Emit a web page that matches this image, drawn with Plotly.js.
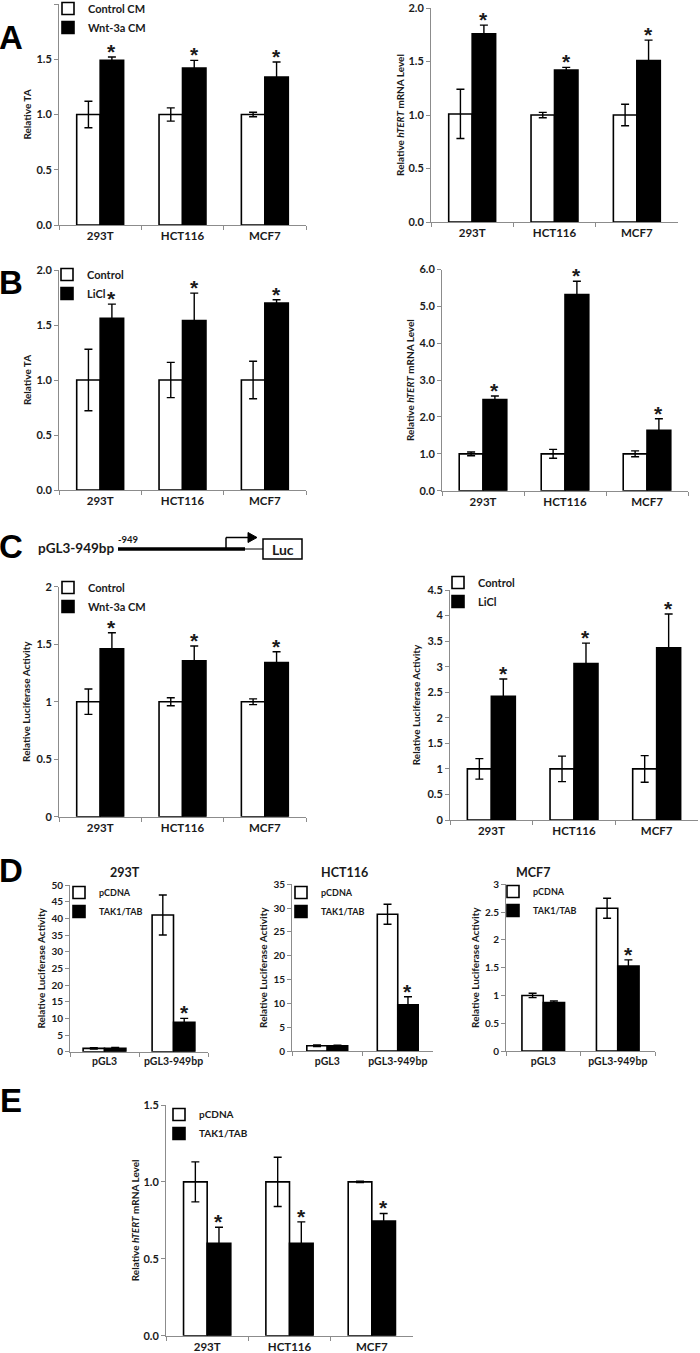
<!DOCTYPE html>
<html><head><meta charset="utf-8">
<script src="https://cdn.plot.ly/plotly-3.0.1.min.js"></script>
<style>html,body{margin:0;padding:0;background:#fff}#chart{width:700px;height:1353px}</style>
</head><body><div id="chart"></div>
<script>
// ---------- data ----------
const cellLines = ['293T', 'HCT116', 'MCF7'];
const constructs = ['pGL3', 'pGL3-949bp'];

// A: Wnt-3a CM
const taWntCtrl = [1.00, 1.00, 1.00];
const taWntCtrlErr = [0.12, 0.06, 0.02];
const taWnt = [1.49, 1.42, 1.34];
const taWntErr = [0.03, 0.07, 0.135];
const taWntSig = [true, true, true];

const mrnaWntCtrl = [1.01, 1.00, 1.00];
const mrnaWntCtrlErr = [0.23, 0.025, 0.10];
const mrnaWnt = [1.76, 1.42, 1.51];
const mrnaWntErr = [0.08, 0.025, 0.19];
const mrnaWntSig = [true, true, true];

// B: LiCl
const taLiclCtrl = [1.00, 1.00, 1.00];
const taLiclCtrlErr = [0.28, 0.16, 0.17];
const taLicl = [1.56, 1.54, 1.70];
const taLiclErr = [0.13, 0.25, 0.03];
const taLiclSig = [true, true, true];

const mrnaLiclCtrl = [1.00, 1.00, 1.00];
const mrnaLiclCtrlErr = [0.05, 0.12, 0.08];
const mrnaLicl = [2.47, 5.32, 1.64];
const mrnaLiclErr = [0.10, 0.36, 0.31];
const mrnaLiclSig = [true, true, true];

// C: luciferase
const lucWntCtrl = [1.00, 1.00, 1.00];
const lucWntCtrlErr = [0.11, 0.035, 0.025];
const lucWnt = [1.46, 1.355, 1.34];
const lucWntErr = [0.14, 0.13, 0.095];
const lucWntSig = [true, true, true];

const lucLiclCtrl = [1.00, 1.00, 1.00];
const lucLiclCtrlErr = [0.20, 0.25, 0.26];
const lucLicl = [2.42, 3.06, 3.37];
const lucLiclErr = [0.34, 0.40, 0.66];
const lucLiclSig = [true, true, true];

// D: TAK1/TAB luciferase
const d293Pc = [1.0, 41.0];
const d293PcErr = [0.2, 6.0];
const d293Tak = [1.05, 8.8];
const d293TakErr = [0.2, 1.2];
const d293Sig = [false, true];

const dHctPc = [1.1, 28.7];
const dHctPcErr = [0.15, 2.1];
const dHctTak = [1.1, 9.7];
const dHctTakErr = [0.1, 1.7];
const dHctSig = [false, true];

const dMcfPc = [1.00, 2.57];
const dMcfPcErr = [0.04, 0.18];
const dMcfTak = [0.87, 1.53];
const dMcfTakErr = [0.03, 0.11];
const dMcfSig = [false, true];

// E: hTERT mRNA with TAK1/TAB
const ePc = [1.00, 1.00, 1.00];
const ePcErr = [0.13, 0.16, 0.005];
const eTak = [0.60, 0.60, 0.745];
const eTakErr = [0.105, 0.14, 0.05];
const eSig = [true, true, true];

// ---------- layout helpers ----------
const W = 700, H = 1353;
const px = v => v / W;
const py = v => 1 - v / H;
const FONT = 'Lato, "Open Sans", sans-serif';
const STARFONT = '"Liberation Sans", Arial, sans-serif';
const INK = '#1a1a1a';
const AXC = '#8c8c8c';
const HT = 'Relative <i>hTERT</i> mRNA Level';
const LUC = 'Relative Luciferase Activity';

const panels = [
  {cats: cellLines, a: taWntCtrl, ae: taWntCtrlErr, b: taWnt, be: taWntErr, sig: taWntSig,
   names: ['Control CM', 'Wnt-3a CM'], yt: 'Relative TA', box: [59, 306, 4, 225], range: [0, 2], dtick: 0.5, fmt: '.1f',
   leg: [48, -6, 11], so: 2, bw: 0.285},
  {cats: cellLines, a: mrnaWntCtrl, ae: mrnaWntCtrlErr, b: mrnaWnt, be: mrnaWntErr, sig: mrnaWntSig,
   names: null, yt: HT, box: [431, 678, 8, 222], range: [0, 2], dtick: 0.5, fmt: '.1f', so: 1, bw: 0.285},
  {cats: cellLines, a: taLiclCtrl, ae: taLiclCtrlErr, b: taLicl, be: taLiclErr, sig: taLiclSig,
   names: ['Control', 'LiCl'], yt: 'Relative TA', box: [59, 306, 270, 490], range: [0, 2], dtick: 0.5, fmt: '.1f',
   leg: [47, 260, 11], so: 2, bw: 0.285},
  {cats: cellLines, a: mrnaLiclCtrl, ae: mrnaLiclCtrlErr, b: mrnaLicl, be: mrnaLiclErr, sig: mrnaLiclSig,
   names: null, yt: HT, box: [442, 688, 269.5, 490.7], range: [0, 6], dtick: 1, fmt: '.1f', so: 2, bw: 0.29},
  {cats: cellLines, a: lucWntCtrl, ae: lucWntCtrlErr, b: lucWnt, be: lucWntErr, sig: lucWntSig,
   names: ['Control', 'Wnt-3a CM'], yt: LUC, box: [59, 306, 586.7, 816.7], range: [0, 2], dtick: 0.5, fmt: '',
   leg: [48, 573, 11], so: 3, bw: 0.285},
  {cats: cellLines, a: lucLiclCtrl, ae: lucLiclCtrlErr, b: lucLicl, be: lucLiclErr, sig: lucLiclSig,
   names: ['Control', 'LiCl'], yt: LUC, box: [450, 698, 590, 820], range: [0, 4.5], dtick: 0.5, fmt: '',
   leg: [438, 568, 11], so: 4, bw: 0.29},
  {cats: constructs, a: d293Pc, ae: d293PcErr, b: d293Tak, be: d293TakErr, sig: d293Sig,
   names: ['pCDNA', 'TAK1/TAB'], yt: LUC, box: [70, 208, 885, 1051.7], range: [0, 50], dtick: 5, fmt: '',
   leg: [59, 878, 9], so: 3, bw: 0.31, tf: 10},
  {cats: constructs, a: dHctPc, ae: dHctPcErr, b: dHctTak, be: dHctTakErr, sig: dHctSig,
   names: ['pCDNA', 'TAK1/TAB'], yt: LUC, box: [292, 433, 884.3, 1051], range: [0, 35], dtick: 5, fmt: '',
   leg: [281, 878, 9], so: 3, bw: 0.29, tf: 10},
  {cats: constructs, a: dMcfPc, ae: dMcfPcErr, b: dMcfTak, be: dMcfTakErr, sig: dMcfSig,
   names: ['pCDNA', 'TAK1/TAB'], yt: LUC, box: [506, 655, 884.3, 1051], range: [0, 3], dtick: 0.5, fmt: '',
   leg: [493, 877, 9], so: 3, bw: 0.286, tf: 10},
  {cats: cellLines, a: ePc, ae: ePcErr, b: eTak, be: eTakErr, sig: eSig,
   names: ['pCDNA', 'TAK1/TAB'], yt: HT, box: [166, 413, 1105, 1335.7], range: [0, 1.5], dtick: 0.5, fmt: '.1f',
   leg: [159, 1100, 10], so: 1, bw: 0.287}
];

const traces = [];
const annotations = [];
const layout = {
  width: W, height: H,
  margin: {l: 0, r: 0, t: 0, b: 0, autoexpand: false},
  paper_bgcolor: '#ffffff', plot_bgcolor: 'rgba(0,0,0,0)',
  barmode: 'overlay',
  font: {family: FONT, color: INK},
  shapes: [],
  annotations: annotations
};

let legN = 0;
panels.forEach((p, i) => {
  const k = i + 1;
  const xs = k === 1 ? '' : String(k);
  const xa = 'x' + xs, ya = 'y' + xs;
  let legId = null;
  if (p.names) {
    legN += 1;
    legId = legN === 1 ? 'legend' : 'legend' + legN;
    layout[legId] = {
      x: px(p.leg[0]), y: py(p.leg[1]), xanchor: 'left', yanchor: 'top',
      bgcolor: 'rgba(0,0,0,0)', borderwidth: 0,
      font: {family: FONT, size: p.leg[2], weight: 'bold', color: INK},
      tracegroupgap: 0, itemwidth: 30, traceorder: 'normal'
    };
  }
  const errStyle = {type: 'data', visible: true, color: '#000', thickness: 1.4, width: 4};
  traces.push({
    type: 'bar', x: p.cats, y: p.a, xaxis: xa, yaxis: ya,
    name: p.names ? p.names[0] : 'Control', showlegend: !!p.names,
    legend: legId || 'legend',
    width: p.bw, offset: -p.bw,
    marker: {color: '#ffffff', line: {color: '#000', width: 1.6}},
    error_y: Object.assign({array: p.ae}, errStyle),
    hoverinfo: 'x+y'
  });
  traces.push({
    type: 'bar', x: p.cats, y: p.b, xaxis: xa, yaxis: ya,
    name: p.names ? p.names[1] : 'Treated', showlegend: !!p.names,
    legend: legId || 'legend',
    width: p.bw, offset: 0,
    marker: {color: '#000000', line: {color: '#000', width: 1.6}},
    error_y: Object.assign({array: p.be}, errStyle),
    hoverinfo: 'x+y'
  });
  const [l, r, t, b] = p.box;
  const tf = p.tf || 11;
  layout['xaxis' + xs] = {
    domain: [px(l), px(r)], anchor: ya, type: 'category',
    showline: true, linecolor: AXC, linewidth: 1,
    ticks: 'outside', tickson: 'boundaries', ticklen: 4, tickcolor: AXC,
    showgrid: false, zeroline: false, fixedrange: true,
    tickfont: {family: FONT, size: tf + 0.5, weight: 'bold', color: INK}
  };
  layout['yaxis' + xs] = {
    domain: [py(b), py(t)], anchor: xa, range: p.range,
    dtick: p.dtick, tick0: 0, tickformat: p.fmt,
    showline: true, linecolor: AXC, linewidth: 1,
    ticks: 'outside', ticklen: 4, tickcolor: AXC,
    showgrid: false, zeroline: false, fixedrange: true,
    tickfont: {family: FONT, size: tf, weight: 'bold', color: INK},
    title: {text: p.yt, standoff: p.so, font: {family: FONT, size: 10, weight: 'bold', color: INK}}
  };
  p.sig.forEach((s, j) => {
    if (!s) return;
    annotations.push({
      xref: xa, yref: ya, x: j + p.bw / 2, y: p.b[j] + p.be[j],
      text: '*', showarrow: false, yanchor: 'bottom', xanchor: 'center', yshift: -8,
      font: {family: STARFONT, size: 21, weight: 'bold', color: INK}
    });
  });
});

// panel letters
[['A', 38], ['B', 282], ['C', 546], ['D', 870], ['E', 1100]].forEach(([t, y]) => {
  annotations.push({xref: 'paper', yref: 'paper', x: px(11), y: py(y), text: t, showarrow: false,
    xanchor: 'center', yanchor: 'middle',
    font: {family: '"Liberation Sans", Arial, sans-serif', size: 33, weight: 'bold', color: '#000'}});
});

// D subplot titles
[['293T', 125], ['HCT116', 344], ['MCF7', 533]].forEach(([t, x]) => {
  annotations.push({xref: 'paper', yref: 'paper', x: px(x), y: py(872), text: t, showarrow: false,
    xanchor: 'center', yanchor: 'middle',
    font: {family: FONT, size: 12.5, weight: 'bold', color: INK}});
});

// C construct diagram
annotations.push({xref: 'paper', yref: 'paper', x: px(76), y: py(547.5), text: 'pGL3-949bp', showarrow: false,
  xanchor: 'center', yanchor: 'middle', font: {family: FONT, size: 13.5, weight: 'bold', color: INK}});
annotations.push({xref: 'paper', yref: 'paper', x: px(128), y: py(539), text: '-949', showarrow: false,
  xanchor: 'center', yanchor: 'middle', font: {family: FONT, size: 9.5, weight: 'bold', color: INK}});
annotations.push({xref: 'paper', yref: 'paper', x: px(282.5), y: py(549), text: 'Luc', showarrow: false,
  xanchor: 'center', yanchor: 'middle', font: {family: FONT, size: 14, weight: 'bold', color: INK}});

const P = (x, y) => px(x) + ',' + py(y);
layout.shapes.push(
  {type: 'line', xref: 'paper', yref: 'paper', x0: px(118), x1: px(245), y0: py(549), y1: py(549), line: {color: '#000', width: 3.5}},
  {type: 'line', xref: 'paper', yref: 'paper', x0: px(245), x1: px(263), y0: py(549), y1: py(549), line: {color: '#000', width: 1}},
  {type: 'line', xref: 'paper', yref: 'paper', x0: px(226), x1: px(226), y0: py(549), y1: py(537.5), line: {color: '#000', width: 1.5}},
  {type: 'line', xref: 'paper', yref: 'paper', x0: px(226), x1: px(249), y0: py(537.5), y1: py(537.5), line: {color: '#000', width: 1.5}},
  {type: 'path', xref: 'paper', yref: 'paper', path: 'M' + P(248, 532.5) + 'L' + P(257, 537.5) + 'L' + P(248, 542.5) + 'Z',
   fillcolor: '#000', line: {color: '#000', width: 1}},
  {type: 'rect', xref: 'paper', yref: 'paper', x0: px(263), x1: px(302), y0: py(539), y1: py(559),
   fillcolor: '#fff', line: {color: '#000', width: 1.5}}
);

Plotly.newPlot('chart', traces, layout, {displayModeBar: false, staticPlot: true});
</script>
</body></html>
